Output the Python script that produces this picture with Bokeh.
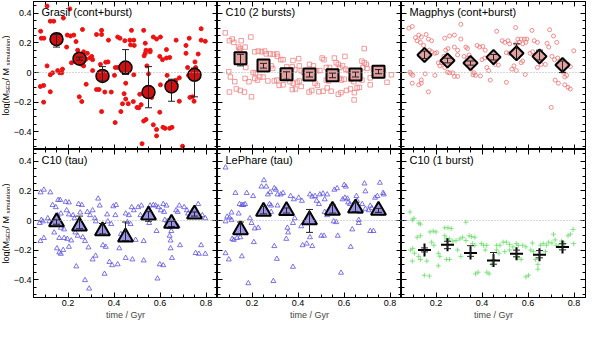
from bokeh.plotting import figure
from bokeh.layouts import gridplot
from bokeh.models import Range1d, FixedTicker, Label, Span, Whisker, TeeHead, ColumnDataSource, LinearAxis
from bokeh.embed import file_html
from bokeh.resources import INLINE
import math

# ---------------- data ----------------
bins = [0.15, 0.25, 0.35, 0.45, 0.55, 0.65, 0.75]
x_ticks = [0.2, 0.4, 0.6, 0.8]
y_ticks = [-0.4, -0.2, 0.0, 0.2, 0.4]
titles = ["Grasil (cont+burst)", "C10 (2 bursts)", "Magphys (cont+burst)",
          "C10 (tau)", "LePhare (tau)", "C10 (1 burst)"]

grasil_pts = [(0.109,0.449),(0.081,0.279),(0.084,0.232),(0.095,0.232),(0.123,0.347),(0.138,0.347),
    (0.18,0.368),(0.208,0.43),(0.163,0.253),(0.197,0.253),(0.211,0.247),(0.225,0.253),(0.194,0.172),
    (0.263,0.291),(0.235,0.209),(0.242,0.151),(0.268,0.14),(0.284,0.13),(0.279,0.091),(0.296,0.098),
    (0.307,0.087),(0.303,0.109),(0.26,0.055),(0.268,0.045),(0.215,0.066),(0.176,0.023),(0.164,-0.002),
    (0.173,-0.002),(0.155,0.013),(0.123,-0.015),(0.133,-0.002),(0.109,0.045),(0.08,-0.094),(0.094,-0.087),
    (0.094,-0.2),(0.123,-0.13),(0.249,-0.164),(0.26,-0.196),(0.279,-0.079),(0.307,0.013),(0.324,-0.115),
    (0.335,-0.115),(0.324,0.257),(0.346,0.285),(0.346,0.257),(0.341,0.055),(0.364,0.07),(0.374,0.072),
    (0.376,0.219),(0.346,-0.264),(0.36,-0.132),(0.388,-0.132),(0.406,0.034),(0.416,0.034),(0.402,-0.019),
    (0.405,-0.338),(0.43,-0.264),(0.416,0.24),(0.426,0.232),(0.447,0.215),(0.451,-0.072),(0.444,-0.143),
    (0.451,-0.179),(0.462,-0.211),(0.437,-0.211),(0.469,0.219),(0.486,0.219),(0.472,0.187),(0.488,0.183),
    (0.476,0.285),(0.486,-0.015),(0.484,-0.196),(0.5,-0.236),(0.508,-0.238),(0.512,-0.147),(0.518,-0.217),
    (0.529,0.285),(0.531,0.113),(0.536,0.13),(0.539,0.151),(0.557,0.151),(0.536,0.198),(0.543,0.045),
    (0.55,-0.009),(0.557,0.14),(0.529,-0.328),(0.539,-0.317),(0.522,-0.481),(0.571,0.24),(0.585,0.226),
    (0.564,-0.168),(0.571,-0.353),(0.585,-0.385),(0.585,-0.428),(0.602,0.24),(0.599,0.109),(0.611,0.087),
    (0.602,-0.083),(0.599,-0.268),(0.613,-0.37),(0.628,0.155),(0.628,0.098),(0.642,0.102),(0.631,-0.019),
    (0.622,-0.377),(0.642,-0.377),(0.648,-0.068),(0.652,-0.37),(0.662,-0.087),(0.669,-0.053),(0.67,0.219),
    (0.684,-0.194),(0.684,-0.036),(0.698,-0.498),(0.713,0.183),(0.713,0.13),(0.727,0.232),(0.72,0.034),
    (0.724,-0.019),(0.73,-0.168),(0.741,-0.164),(0.748,-0.194),(0.752,0.072),(0.755,0.034),(0.766,0.125),
    (0.779,0.296),(0.779,0.219),(0.797,0.211)]
grasil_mean = [0.225, 0.094, -0.023, 0.034, -0.132, -0.094, -0.015]
grasil_lo = [0.172, 0.084, -0.057, -0.013, -0.238, -0.194, -0.164]
grasil_hi = [0.257, 0.104, 0.040, 0.155, 0.040, -0.045, 0.030]

c10b2_pts = [(0.084,0.268),(0.102,0.215),(0.114,0.226),(0.121,0.204),(0.099,0.006),(0.106,-0.03),
    (0.102,-0.132),(0.125,-0.062),(0.132,-0.111),(0.142,0.172),(0.149,0.162),(0.145,0.151),(0.153,0.215),
    (0.17,0.172),(0.149,-0.121),(0.167,-0.132),(0.153,0.066),(0.173,0.034),(0.17,-0.04),(0.195,0.24),
    (0.198,-0.164),(0.187,-0.062),(0.212,0.14),(0.227,0.145),(0.241,0.14),(0.255,0.145),(0.212,-0.04),
    (0.224,-0.051),(0.234,-0.03),(0.248,-0.03),(0.205,0.0),(0.215,-0.004),(0.262,0.126),(0.279,0.126),
    (0.293,0.123),(0.269,-0.057),(0.297,-0.057),(0.308,-0.051),(0.283,0.045),(0.29,0.028),(0.308,0.126),
    (0.311,0.109),(0.325,0.087),(0.335,0.087),(0.339,-0.019),(0.344,-0.04),(0.318,-0.087),(0.335,-0.083),
    (0.351,0.038),(0.375,0.038),(0.368,0.013),(0.386,0.019),(0.378,0.081),(0.403,0.094),(0.365,-0.062),
    (0.379,-0.072),(0.396,-0.066),(0.375,-0.115),(0.389,-0.111),(0.406,0.045),(0.414,0.013),(0.424,0.002),
    (0.431,-0.002),(0.406,-0.057),(0.414,-0.094),(0.448,-0.132),(0.46,-0.121),(0.45,0.055),(0.467,0.045),
    (0.474,-0.072),(0.484,-0.087),(0.481,0.013),(0.495,0.013),(0.491,-0.13),(0.509,-0.126),(0.505,0.098),
    (0.513,0.087),(0.523,0.034),(0.537,0.034),(0.527,-0.104),(0.544,-0.126),(0.523,-0.051),(0.533,-0.057),
    (0.558,0.098),(0.566,0.066),(0.575,0.055),(0.582,0.034),(0.594,0.045),(0.575,-0.147),(0.587,-0.136),
    (0.579,-0.04),(0.589,-0.051),(0.601,-0.045),(0.604,0.109),(0.608,0.023),(0.618,0.013),(0.611,-0.121),
    (0.628,-0.111),(0.629,-0.047),(0.643,-0.062),(0.645,-0.136),(0.644,-0.185),(0.657,-0.104),(0.667,-0.1),
    (0.688,0.162),(0.678,0.077),(0.688,0.066),(0.697,0.055),(0.682,0.034),(0.7,0.028),(0.678,-0.051),
    (0.714,-0.036),(0.714,-0.083),(0.728,0.023),(0.739,0.013),(0.763,0.034),(0.77,0.013),(0.787,-0.066),
    (0.806,-0.015),(0.735,-0.019),(0.756,-0.002)]
c10b2_mean = [0.096, 0.047, -0.011, -0.013, -0.019, -0.013, 0.006]
c10b2_lo = [0.045, 0.030, -0.045, -0.030, -0.035, -0.030, -0.008]
c10b2_hi = [0.123, 0.062, 0.005, 0.002, -0.004, 0.003, 0.020]

magphys_pts = [(0.082,0.3),(0.097,0.311),(0.111,0.236),(0.125,0.253),(0.136,0.24),(0.118,0.215),
    (0.132,0.204),(0.146,0.183),(0.167,0.226),(0.181,0.215),(0.171,0.151),(0.181,0.14),(0.195,0.13),
    (0.203,0.134),(0.21,0.066),(0.224,0.066),(0.217,0.045),(0.087,0.002),(0.099,-0.019),(0.092,-0.009),
    (0.097,-0.072),(0.125,-0.083),(0.136,-0.072),(0.136,-0.051),(0.167,-0.13),(0.153,-0.009),(0.195,-0.019),
    (0.238,0.232),(0.259,0.247),(0.28,0.253),(0.308,0.326),(0.242,0.151),(0.252,0.162),(0.234,0.109),
    (0.25,0.002),(0.259,-0.002),(0.238,0.034),(0.28,-0.026),(0.294,-0.026),(0.28,0.172),(0.294,0.119),
    (0.308,0.226),(0.33,0.172),(0.337,0.162),(0.322,0.109),(0.337,0.098),(0.351,0.023),(0.361,-0.015),
    (0.365,-0.002),(0.379,0.183),(0.39,0.172),(0.403,0.177),(0.4,0.087),(0.412,0.098),(0.393,-0.023),
    (0.421,0.034),(0.429,0.013),(0.436,-0.051),(0.414,0.151),(0.44,0.109),(0.45,0.119),(0.464,0.279),
    (0.457,0.055),(0.471,0.051),(0.488,0.215),(0.499,0.204),(0.513,0.215),(0.52,0.194),(0.506,0.134),
    (0.52,0.13),(0.506,-0.066),(0.53,0.023),(0.539,0.045),(0.549,0.013),(0.546,0.304),(0.549,0.194),
    (0.556,0.226),(0.57,0.226),(0.584,0.226),(0.595,0.226),(0.563,0.204),(0.577,0.194),(0.591,0.204),
    (0.57,0.066),(0.577,0.077),(0.588,-0.013),(0.609,0.13),(0.62,0.14),(0.617,0.285),(0.627,0.215),
    (0.641,0.204),(0.634,0.098),(0.657,0.055),(0.675,0.055),(0.641,0.034),(0.683,0.198),(0.69,0.172),
    (0.694,0.289),(0.711,0.247),(0.725,0.204),(0.704,0.109),(0.715,0.087),(0.729,0.098),(0.701,-0.236),
    (0.718,-0.051),(0.732,-0.072),(0.753,0.002),(0.76,-0.03),(0.768,-0.019),(0.76,-0.083),(0.774,-0.1),
    (0.784,-0.111),(0.774,0.055),(0.784,0.04),(0.799,0.147),(0.157,0.257),(0.273,-0.002),(0.294,0.151),
    (0.372,-0.019),(0.344,0.119)]
magphys_mean = [0.119, 0.081, 0.064, 0.104, 0.130, 0.109, 0.051]
magphys_lo = [0.095, 0.065, 0.050, 0.085, 0.095, 0.085, 0.000]
magphys_hi = [0.145, 0.097, 0.078, 0.122, 0.194, 0.151, 0.078]

c10tau_pts = [(0.081,0.19),(0.095,0.208),(0.123,0.19),(0.077,-0.017),(0.084,0.004),(0.091,-0.006),
    (0.08,-0.139),(0.095,-0.118),(0.112,0.015),(0.119,-0.006),(0.133,0.105),(0.147,0.09),(0.157,0.139),
    (0.166,0.139),(0.155,0.036),(0.169,0.047),(0.14,-0.081),(0.162,-0.118),(0.152,-0.188),(0.162,-0.216),
    (0.169,-0.225),(0.179,-0.199),(0.169,-0.049),(0.183,-0.06),(0.19,0.126),(0.204,0.122),(0.194,0.069),
    (0.204,0.041),(0.183,-0.118),(0.197,-0.124),(0.204,-0.178),(0.214,-0.135),(0.222,0.036),(0.228,0.015),
    (0.232,-0.081),(0.242,-0.103),(0.236,-0.31),(0.246,0.111),(0.26,0.105),(0.253,0.054),(0.264,-0.113),
    (0.274,-0.139),(0.274,-0.403),(0.289,-0.182),(0.292,-0.46),(0.284,0.058),(0.296,0.036),(0.307,0.069),
    (0.317,0.015),(0.321,-0.006),(0.307,-0.263),(0.32,-0.238),(0.331,0.148),(0.338,0.101),(0.345,-0.071),
    (0.359,-0.081),(0.352,-0.167),(0.364,-0.178),(0.359,-0.36),(0.37,0.041),(0.373,-0.006),(0.388,-0.024),
    (0.38,-0.28),(0.392,-0.302),(0.397,0.096),(0.409,0.105),(0.406,0.036),(0.416,-0.296),(0.423,-0.188),
    (0.43,-0.092),(0.444,-0.124),(0.451,0.047),(0.465,0.036),(0.458,-0.011),(0.472,-0.024),(0.451,-0.253),
    (0.477,0.09),(0.486,0.069),(0.494,-0.131),(0.48,-0.263),(0.505,0.09),(0.519,0.101),(0.515,0.036),
    (0.529,-0.139),(0.529,-0.27),(0.543,0.015),(0.553,-0.017),(0.557,0.101),(0.571,0.105),(0.561,0.036),
    (0.581,0.101),(0.592,0.09),(0.585,-0.071),(0.589,-0.392),(0.599,-0.296),(0.614,-0.302),(0.604,0.069),
    (0.618,0.058),(0.614,0.111),(0.628,0.101),(0.621,0.004),(0.632,-0.006),(0.642,-0.045),(0.649,-0.071),
    (0.642,-0.103),(0.646,-0.135),(0.646,-0.188),(0.652,-0.253),(0.67,0.069),(0.677,0.058),(0.677,-0.039),
    (0.687,-0.167),(0.684,0.101),(0.705,0.09),(0.717,0.069),(0.722,0.047),(0.741,0.069),(0.748,0.058),
    (0.755,-0.22),(0.769,-0.225),(0.766,0.111),(0.779,-0.167),(0.797,-0.225),(0.784,0.036),(0.797,0.015)]
c10tau_mean = [-0.010, -0.038, -0.070, -0.113, 0.036, -0.020, 0.043]
c10tau_lo = [-0.025, -0.055, -0.090, -0.135, -0.005, -0.040, 0.030]
c10tau_hi = [0.005, 0.030, -0.020, -0.010, 0.060, -0.005, 0.058]

lephare_pts = [(0.085,0.358),(0.092,0.026),(0.102,0.019),(0.085,-0.006),(0.085,-0.221),(0.099,-0.263),
    (0.111,0.054),(0.111,0.004),(0.114,-0.124),(0.121,-0.131),(0.135,-0.118),(0.128,0.186),(0.142,0.047),
    (0.146,0.111),(0.156,0.105),(0.163,0.105),(0.17,0.111),(0.156,-0.242),(0.149,-0.113),(0.177,0.186),
    (0.184,-0.424),(0.191,0.015),(0.198,-0.017),(0.205,0.165),(0.208,-0.146),(0.212,-0.054),(0.227,-0.049),
    (0.241,0.229),(0.252,0.272),(0.262,0.229),(0.269,0.176),(0.279,0.191),(0.276,0.111),(0.283,0.101),
    (0.283,0.058),(0.297,0.218),(0.304,0.208),(0.311,0.176),(0.325,0.176),(0.335,0.186),(0.297,-0.173),
    (0.308,-0.259),(0.293,-0.409),(0.311,0.101),(0.354,-0.049),(0.357,-0.081),(0.349,-0.124),(0.368,0.165),
    (0.382,0.143),(0.378,-0.017),(0.386,0.015),(0.378,-0.313),(0.403,0.154),(0.417,0.133),(0.414,-0.039),
    (0.431,-0.006),(0.42,-0.167),(0.438,-0.156),(0.452,0.176),(0.462,0.161),(0.474,0.165),(0.452,-0.113),
    (0.462,-0.173),(0.481,0.133),(0.491,0.111),(0.495,0.176),(0.509,0.182),(0.501,-0.103),(0.513,-0.103),
    (0.516,0.058),(0.527,0.036),(0.516,0.143),(0.527,0.176),(0.558,0.208),(0.57,0.218),(0.547,0.069),
    (0.555,-0.006),(0.566,-0.011),(0.573,-0.103),(0.587,-0.353),(0.601,0.24),(0.608,0.229),(0.594,0.143),
    (0.604,0.154),(0.615,0.148),(0.618,0.122),(0.626,0.111),(0.629,-0.178),(0.636,-0.06),(0.654,0.165),
    (0.657,0.133),(0.664,0.004),(0.664,-0.017),(0.669,0.058),(0.679,0.111),(0.689,0.25),(0.693,0.197),
    (0.693,0.079),(0.707,0.069),(0.714,-0.071),(0.728,-0.071),(0.714,0.1),(0.721,0.083),(0.735,0.154),
    (0.745,0.165),(0.749,0.101),(0.756,0.255),(0.77,0.186),(0.773,0.176),(0.763,0.047)]
lephare_mean = [-0.064, 0.062, 0.066, 0.004, 0.068, 0.083, 0.068]
lephare_lo = [-0.090, 0.045, 0.050, -0.080, 0.050, 0.060, 0.055]
lephare_hi = [-0.010, 0.095, 0.085, 0.075, 0.105, 0.120, 0.082]

c10b1_pts = [(0.087,0.058),(0.097,0.004),(0.104,0.015),(0.09,-0.199),(0.099,-0.188),(0.106,-0.221),
    (0.097,-0.274),(0.125,-0.017),(0.132,-0.024),(0.118,-0.113),(0.132,-0.103),(0.125,-0.242),(0.132,-0.263),
    (0.149,-0.37),(0.171,-0.375),(0.16,-0.274),(0.174,-0.077),(0.188,-0.071),(0.2,-0.077),(0.181,-0.146),
    (0.191,-0.167),(0.21,-0.221),(0.217,-0.242),(0.21,-0.306),(0.238,-0.049),(0.252,-0.049),(0.266,-0.054),
    (0.238,-0.103),(0.245,-0.124),(0.259,-0.124),(0.273,-0.139),(0.245,-0.263),(0.259,-0.263),(0.287,-0.135),
    (0.304,-0.124),(0.316,-0.113),(0.33,-0.135),(0.294,-0.199),(0.308,-0.242),(0.33,-0.011),(0.344,-0.103),
    (0.355,-0.109),(0.369,-0.113),(0.358,-0.156),(0.369,-0.167),(0.372,-0.36),(0.383,-0.349),(0.397,-0.156),
    (0.407,-0.167),(0.421,-0.167),(0.414,-0.199),(0.421,-0.349),(0.431,-0.36),(0.443,-0.296),(0.45,-0.263),
    (0.464,-0.167),(0.478,-0.167),(0.464,-0.199),(0.474,-0.221),(0.492,-0.146),(0.506,-0.146),(0.52,-0.161),
    (0.499,-0.21),(0.52,-0.199),(0.534,-0.178),(0.549,-0.156),(0.558,-0.167),(0.556,-0.253),(0.57,-0.263),
    (0.577,-0.167),(0.591,-0.178),(0.591,-0.381),(0.602,-0.37),(0.612,-0.199),(0.623,-0.21),(0.619,-0.152),
    (0.633,-0.263),(0.643,-0.296),(0.643,-0.328),(0.654,-0.167),(0.666,-0.156),(0.68,-0.167),(0.69,-0.146),
    (0.704,-0.152),(0.676,-0.21),(0.711,-0.092),(0.718,-0.131),(0.722,-0.167),(0.732,-0.173),(0.746,-0.139),
    (0.76,-0.156),(0.774,-0.103),(0.784,-0.092),(0.796,-0.06),(0.799,-0.156)]
c10b1_mean = [-0.199, -0.163, -0.220, -0.270, -0.225, -0.231, -0.178]
c10b1_lo = [-0.212, -0.190, -0.242, -0.295, -0.245, -0.252, -0.198]
c10b1_hi = [-0.185, -0.140, -0.170, -0.216, -0.200, -0.203, -0.157]

# ---------------- styling ----------------
FW, FH = 184, 148
LW = 10            # width of the strip holding the y-axis title
FONT = "Liberation Sans"
TOP_B = [1, 0]
BOT_B = [0, 25]

panels = [
    dict(pts=grasil_pts, mean=grasil_mean, lo=grasil_lo, hi=grasil_hi,
         small=dict(marker="circle", size=4, fill_color="#ee1111", line_color="#ee1111"),
         big=dict(marker="circle", size=13, fill_color="#d01010", line_color="black", line_width=1.5)),
    dict(pts=c10b2_pts, mean=c10b2_mean, lo=c10b2_lo, hi=c10b2_hi,
         small=dict(marker="square", size=4.5, fill_color=None, line_color="#f08080", line_width=0.8),
         big=dict(marker="square", size=12, fill_color="#e4a0a0", line_color="black", line_width=2)),
    dict(pts=magphys_pts, mean=magphys_mean, lo=magphys_lo, hi=magphys_hi,
         small=dict(marker="circle", size=4, fill_color=None, line_color="#f07070", line_width=0.8),
         big=dict(marker="square", angle=math.pi / 4, size=10, fill_color="#e0a0a0",
                  line_color="black", line_width=2)),
    dict(pts=c10tau_pts, mean=c10tau_mean, lo=c10tau_lo, hi=c10tau_hi,
         small=dict(marker="triangle", size=5, fill_color=None, line_color="#5a50e0", line_width=0.8),
         big=dict(marker="triangle", size=15, fill_color="#9a92e8", line_color="black", line_width=2)),
    dict(pts=lephare_pts, mean=lephare_mean, lo=lephare_lo, hi=lephare_hi,
         small=dict(marker="triangle", size=5, fill_color=None, line_color="#5a50e0", line_width=0.8),
         big=dict(marker="triangle", size=15, fill_color="#9a92e8", line_color="black", line_width=2)),
    dict(pts=c10b1_pts, mean=c10b1_mean, lo=c10b1_lo, hi=c10b1_hi,
         small=dict(marker="cross", size=5, line_color="#66dd66", line_width=0.8),
         big=dict(marker="cross", size=13, line_color="black", line_width=2)),
]

Y_MINOR = [round(i * 0.05 - 0.5, 3) for i in range(21)]
X_MINOR = [round(0.05 + i * 0.05, 3) for i in range(16)]


def tick_axis(ticks, minor, tick_len, labeled):
    ax = LinearAxis(ticker=FixedTicker(ticks=ticks, minor_ticks=minor))
    ax.major_tick_in = 5
    ax.major_tick_out = 0
    ax.minor_tick_in = tick_len
    ax.minor_tick_out = 0
    ax.axis_line_color = "black"
    ax.major_tick_line_color = "black"
    ax.minor_tick_line_color = "black"
    ax.major_label_standoff = 2 if labeled else 0
    return ax


def add_axes(p, col, row):
    for side in ["left", "right", "above", "below"]:
        vertical = side in ("left", "right")
        majors = y_ticks if vertical else x_ticks
        minors = Y_MINOR if vertical else X_MINOR
        labeled = (side == "left" and col == 0) or (side == "below" and row == 1)
        if labeled:
            ax = tick_axis(majors, minors, 3, True)
            ax.major_label_text_font_size = "9px"
            ax.major_label_text_font = FONT
            ax.major_label_text_color = "black"
            if side == "below":
                ax.axis_label = "time / Gyr"
                ax.axis_label_text_font_size = "9px"
                ax.axis_label_text_font = FONT
                ax.axis_label_text_font_style = "normal"
                ax.axis_label_standoff = 1
            p.add_layout(ax, side)
        else:
            # no labels: minor ticks + a second set of longer ticks at the major positions
            p.add_layout(tick_axis([], minors, 3, False), side)
            p.add_layout(tick_axis([], majors, 5, False), side)


def ylabel_strip(row):
    s = figure(frame_width=LW, frame_height=FH, x_range=Range1d(0, 1), y_range=Range1d(0, 1),
               output_backend="svg", toolbar_location=None,
               x_axis_location=None, y_axis_location=None,
               min_border_left=0, min_border_right=0,
               min_border_top=TOP_B[row], min_border_bottom=BOT_B[row],
               outline_line_color=None, background_fill_color="white", border_fill_color="white")
    s.grid.visible = False
    # log(M_SED / M_simulation), drawn as rotated pieces
    pieces = [("log(M", 9, 0), ("SED", 6, 2), (" / M", 9, 0), ("simulation", 6, 2), (")", 9, 0)]
    widths = [22.5, 12.3, 15.0, 27.0, 3.0]
    y = FH / 2 - sum(widths) / 2
    for (txt, fs, dx), w in zip(pieces, widths):
        s.add_layout(Label(x=LW / 2 + dx, y=y, x_units="screen", y_units="screen", text=txt,
                           angle=math.pi / 2, text_align="left", text_baseline="middle",
                           text_font=FONT, text_font_size=f"{fs}px", text_color="black"))
        y += w
    return s


figs = []
for i, d in enumerate(panels):
    col, row = i % 3, i // 3
    p = figure(frame_width=FW, frame_height=FH,
               x_range=Range1d(0.05, 0.85), y_range=Range1d(-0.52, 0.48),
               output_backend="svg", toolbar_location=None,
               x_axis_location=None, y_axis_location=None,
               min_border_left=20 if col == 0 else 0,
               min_border_right=2 if col == 2 else 0,
               min_border_top=TOP_B[row],
               min_border_bottom=BOT_B[row],
               outline_line_color="black", background_fill_color="white",
               border_fill_color="white")
    p.grid.visible = False
    add_axes(p, col, row)
    p.add_layout(Span(location=0, dimension="width", line_color="#aaaaaa",
                      line_dash="1 2", line_width=1))
    xs = [q[0] for q in d["pts"]]
    ys = [q[1] for q in d["pts"]]
    p.scatter(xs, ys, **d["small"])
    p.scatter(bins, d["mean"], **d["big"])
    src = ColumnDataSource(dict(base=bins, upper=d["hi"], lower=d["lo"]))
    p.add_layout(Whisker(base="base", upper="upper", lower="lower", source=src,
                         dimension="height", line_color="#222222", line_width=1, level="overlay",
                         upper_head=TeeHead(size=7, line_color="#222222", line_width=1),
                         lower_head=TeeHead(size=7, line_color="#222222", line_width=1)))
    p.add_layout(Label(x=8, y=FH - 4, x_units="screen", y_units="screen", text=titles[i],
                       text_align="left", text_baseline="top", text_font=FONT,
                       text_font_size="11px", text_color="black"))
    figs.append(p)

grid = gridplot([[ylabel_strip(0)] + figs[0:3], [ylabel_strip(1)] + figs[3:6]],
                toolbar_location=None)
open("out.html", "w").write(file_html(grid, INLINE))
